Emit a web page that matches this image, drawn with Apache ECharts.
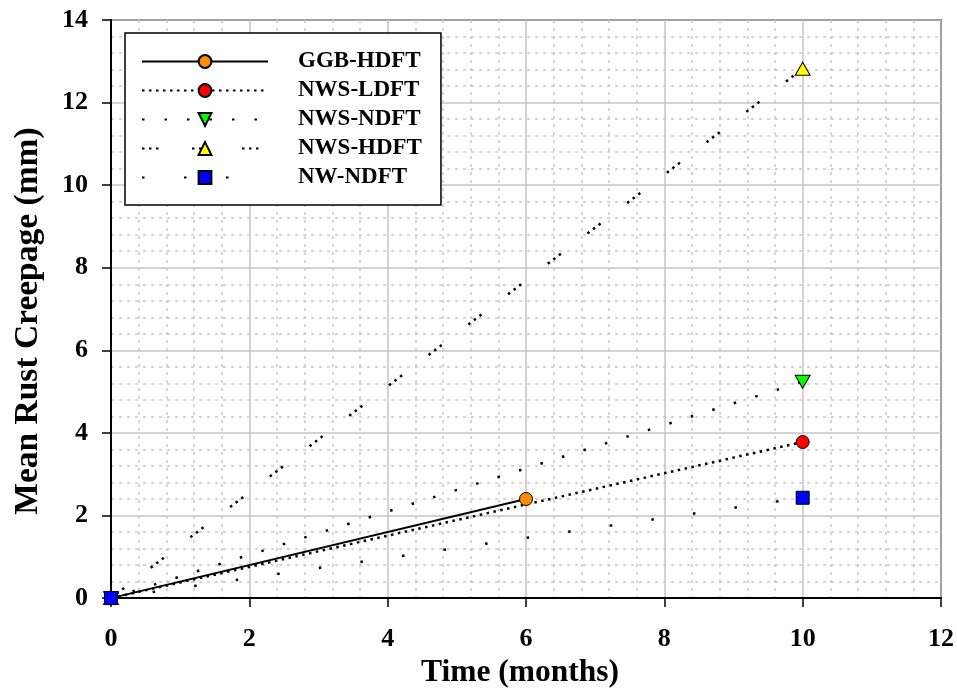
<!DOCTYPE html>
<html>
<head>
<meta charset="utf-8">
<script src="https://cdn.jsdelivr.net/npm/echarts@6/dist/echarts.min.js"></script>
<style>html,body{margin:0;padding:0;background:#fff;}#c{width:957px;height:694px;}</style>
</head>
<body>
<div id="c"></div>
<script>
// Data
const seriesNames = ['GGB-HDFT', 'NWS-LDFT', 'NWS-NDFT', 'NWS-HDFT', 'NW-NDFT'];
const ggbHdft = [[0, 0], [6, 2.4]];
const nwsLdft = [[0, 0], [10, 3.78]];
const nwsNdft = [[0, 0], [10, 5.24]];
const nwsHdft = [[0, 0], [10, 12.82]];
const nwNdft  = [[0, 0], [10, 2.43]];
const xTicks = [0, 2, 4, 6, 8, 10, 12];
const yTicks = [0, 2, 4, 6, 8, 10, 12, 14];

const FONT = '"Liberation Serif", "Times New Roman", serif';
const chart = echarts.init(document.getElementById('c'), null, {renderer: 'canvas'});

function mk(name, data, color, symbol, size, rotate, dash, width) {
  return {
    name: name, type: 'line', data: data, clip: false,
    symbol: symbol, symbolSize: size, symbolRotate: rotate,
    showSymbol: true,
    itemStyle: {color: color, borderColor: '#000', borderWidth: 1},
    lineStyle: {color: '#000', width: width, type: dash, cap: 'butt'},
    emphasis: {disabled: true},
    animation: false
  };
}

chart.setOption({
  backgroundColor: '#fff',
  animation: false,
  grid: {left: 111, top: 20, right: 14, bottom: 93, show: true, borderColor: '#000', borderWidth: 1.5, backgroundColor: 'transparent'},
  legend: {
    orient: 'vertical', left: 125, top: 33,
    backgroundColor: '#fff', borderColor: '#000', borderWidth: 1.5,
    padding: [17, 19, 16, 16],
    itemWidth: 126, itemHeight: 16, itemGap: 6,
    selectedMode: false,
    textStyle: {fontFamily: FONT, fontWeight: 'bold', fontSize: 23, color: '#000', lineHeight: 22, padding: [0, 0, 0, 25]},
    data: seriesNames
  },
  xAxis: {
    type: 'value', min: xTicks[0], max: xTicks[xTicks.length - 1], interval: 2,
    name: 'Time (months)', nameLocation: 'middle', nameGap: 50,
    nameTextStyle: {fontFamily: FONT, fontWeight: 'bold', fontSize: 31.5, color: '#000', padding: [0, 12, 0, 0]},
    axisLine: {show: true, lineStyle: {color: '#000', width: 2}},
    axisTick: {show: true, inside: false, length: 9, lineStyle: {color: '#000', width: 1.5}},
    axisLabel: {fontFamily: FONT, fontWeight: 'bold', fontSize: 26, color: '#000', margin: 28},
    splitLine: {show: true, lineStyle: {color: '#c4c4c4', width: 1.5}},
    minorTick: {show: false, splitNumber: 5},
    minorSplitLine: {show: true, lineStyle: {color: '#c8c8c8', width: 1.5, type: [3, 5]}}
  },
  yAxis: {
    type: 'value', min: yTicks[0], max: yTicks[yTicks.length - 1], interval: 2,
    name: 'Mean Rust Creepage (mm)', nameLocation: 'middle', nameGap: 66,
    nameTextStyle: {fontFamily: FONT, fontWeight: 'bold', fontSize: 33.5, color: '#000', padding: [0, 24, 0, 0]},
    axisLine: {show: true, lineStyle: {color: '#000', width: 2}},
    axisTick: {show: true, inside: false, length: 9, lineStyle: {color: '#000', width: 1.5}},
    axisLabel: {fontFamily: FONT, fontWeight: 'bold', fontSize: 26, color: '#000', margin: 23},
    splitLine: {show: true, lineStyle: {color: '#c4c4c4', width: 1.5}},
    minorTick: {show: false, splitNumber: 5},
    minorSplitLine: {show: true, lineStyle: {color: '#c8c8c8', width: 1.5, type: [3, 5]}}
  },
  series: [
    mk(seriesNames[0], ggbHdft, '#FF8C00', 'circle', 13, 0, 'solid', 2),
    mk(seriesNames[1], nwsLdft, '#FF0000', 'circle', 13, 0, [2.5, 4.5], 2.5),
    mk(seriesNames[2], nwsNdft, '#00FF00', 'triangle', [15, 13], 180, [2.5, 20], 2.5),
    mk(seriesNames[3], nwsHdft, '#FFFF00', 'triangle', [15, 13], 0, [2.5, 4.5, 2.5, 4.5, 2.5, 33.5], 2.5),
    mk(seriesNames[4], nwNdft, '#0000FF', 'rect', 13, 0, [2.5, 39.5], 2.5)
  ]
});
</script>
</body>
</html>
